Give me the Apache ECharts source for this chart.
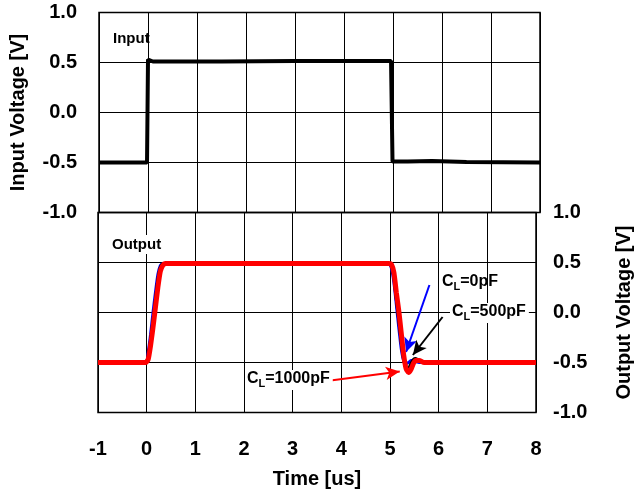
<!DOCTYPE html>
<html><head><meta charset="utf-8">
<script src="https://cdn.jsdelivr.net/npm/echarts@6/dist/echarts.min.js"></script>
<style>html,body{margin:0;padding:0;background:#fff}#c{width:642px;height:491px}</style>
</head><body><div id="c"></div>
<script>
// ---- data ----
const xTicks = [-1, 0, 1, 2, 3, 4, 5, 6, 7, 8];
const inTime = [-1, -0.02, 0.0, 0.03, 0.1, 0.3, 1.5, 3, 4.5, 4.96, 4.99, 5.03, 5.3, 5.8, 6.5, 8];
const inVolt = [-0.5, -0.5, 0.53, 0.52, 0.51, 0.51, 0.51, 0.515, 0.515, 0.515, -0.49, -0.49, -0.49, -0.485, -0.495, -0.5];

const outTime = [-1, -0.02, 0.03, 0.08, 0.13, 0.18, 0.23, 0.28, 0.33, 0.38, 0.45, 1.5, 3, 4.5, 4.98, 5.03, 5.08, 5.13, 5.18, 5.23, 5.28, 5.33, 5.38, 5.43, 5.48, 5.53, 5.6, 5.7, 5.8, 5.9, 6.2, 8];
const out0pF = [-0.5, -0.5, -0.4, -0.22, 0.0, 0.2, 0.38, 0.47, 0.49, 0.49, 0.49, 0.49, 0.49, 0.49, 0.49, 0.44, 0.3, 0.08, -0.15, -0.36, -0.48, -0.51, -0.5, -0.48, -0.48, -0.49, -0.5, -0.5, -0.5, -0.5, -0.5, -0.5];
const out500pF = [-0.5, -0.5, -0.44, -0.28, -0.08, 0.13, 0.33, 0.45, 0.49, 0.49, 0.49, 0.49, 0.49, 0.49, 0.49, 0.46, 0.35, 0.13, -0.08, -0.3, -0.47, -0.55, -0.56, -0.51, -0.47, -0.46, -0.48, -0.5, -0.49, -0.5, -0.5, -0.5];
const out1000pF = [-0.5, -0.5, -0.47, -0.33, -0.15, 0.05, 0.25, 0.41, 0.47, 0.49, 0.49, 0.49, 0.49, 0.49, 0.49, 0.48, 0.4, 0.2, 0.02, -0.2, -0.42, -0.56, -0.6, -0.57, -0.51, -0.48, -0.48, -0.5, -0.5, -0.5, -0.5, -0.5];

// annotation arrows: [startT, startV, endT, endV]
const arrow0pF = [5.81, 0.275, 5.33, -0.395];
const arrow500pF = [6.08, -0.045, 5.47, -0.425];
const arrow1000pF = [3.78, -0.68, 5.20, -0.59];

function zip(t, v) { return t.map((x, i) => [x, v[i]]); }
function arrow(a, color) {
  return {
    silent: true, symbol: ['none', 'arrow'], symbolSize: [10, 14],
    label: { show: false },
    lineStyle: { color: color, width: 2, type: 'solid' },
    emphasis: { disabled: true },
    data: [[{ coord: [a[0], a[1]] }, { coord: [a[2], a[3]] }]]
  };
}

const FONT = 'Liberation Sans, Arial, sans-serif';
const axisLabel = { color: '#000', fontSize: 20, fontWeight: 'bold', fontFamily: FONT };
const nameStyle = { color: '#000', fontSize: 20, fontWeight: 'bold', fontFamily: FONT };
const split = { show: true, lineStyle: { color: '#000', width: 1 } };
const sub = {
  a: { fontSize: 16, fontWeight: 'bold', fontFamily: FONT, lineHeight: 18, verticalAlign: 'top' },
  s: { fontSize: 11, fontWeight: 'bold', fontFamily: FONT, lineHeight: 11, verticalAlign: 'bottom' }
};
function subStyle(color) {
  const r = {};
  for (const k in sub) r[k] = Object.assign({}, sub[k], { color: color });
  return r;
}

const chart = echarts.init(document.getElementById('c'), null, { renderer: 'canvas' });
chart.setOption({
  animation: false,
  backgroundColor: '#fff',
  grid: [
    { left: 98, right: 102, top: 12.5, height: 200, show: true, borderColor: '#000', borderWidth: 1.5, backgroundColor: 'transparent' },
    { left: 98, right: 102, top: 212.5, height: 200, show: true, borderColor: '#000', borderWidth: 1.5, backgroundColor: 'transparent' }
  ],
  xAxis: [
    { gridIndex: 0, type: 'value', min: -1, max: 8, interval: 1, axisLabel: { show: false }, axisTick: { show: false }, axisLine: { show: false }, splitLine: split },
    { gridIndex: 1, type: 'value', min: -1, max: 8, interval: 1,
      axisLabel: Object.assign({}, axisLabel, { margin: 27, formatter: v => xTicks.includes(v) ? String(v) : '' }),
      axisTick: { show: false }, axisLine: { show: false }, splitLine: split,
      name: 'Time [us]', nameLocation: 'middle', nameGap: 57, nameTextStyle: nameStyle }
  ],
  yAxis: [
    { gridIndex: 0, type: 'value', position: 'left', min: -1, max: 1, interval: 0.5,
      axisLabel: Object.assign({}, axisLabel, { margin: 22, formatter: v => v.toFixed(1) }),
      axisTick: { show: false }, axisLine: { show: false }, splitLine: split,
      name: 'Input Voltage [V]', nameLocation: 'middle', nameGap: 71, nameTextStyle: nameStyle },
    { gridIndex: 1, type: 'value', position: 'right', min: -1, max: 1, interval: 0.5,
      axisLabel: Object.assign({}, axisLabel, { margin: 17, formatter: v => v.toFixed(1) }),
      axisTick: { show: false }, axisLine: { show: false }, splitLine: split,
      name: 'Output Voltage [V]', nameLocation: 'middle', nameGap: 78, nameTextStyle: nameStyle }
  ],
  series: [
    { name: 'Input', type: 'line', xAxisIndex: 0, yAxisIndex: 0, data: zip(inTime, inVolt), showSymbol: false, lineStyle: { color: '#000', width: 4 }, z: 5 },
    { name: 'CL=0pF', type: 'line', xAxisIndex: 1, yAxisIndex: 1, data: zip(outTime, out0pF), showSymbol: false, smooth: 0.2, lineStyle: { color: '#0000ff', width: 3 }, z: 3, markLine: arrow(arrow0pF, '#0000ff') },
    { name: 'CL=500pF', type: 'line', xAxisIndex: 1, yAxisIndex: 1, data: zip(outTime, out500pF), showSymbol: false, smooth: 0.2, lineStyle: { color: '#000', width: 3 }, z: 4, markLine: arrow(arrow500pF, '#000') },
    { name: 'CL=1000pF', type: 'line', xAxisIndex: 1, yAxisIndex: 1, data: zip(outTime, out1000pF), showSymbol: false, smooth: 0.2, lineStyle: { color: '#ff0000', width: 5 }, z: 6, markLine: arrow(arrow1000pF, '#ff0000') }
  ],
  graphic: [
    { type: 'text', left: 113, top: 31, z: 10, style: { text: 'Input', fill: '#000', font: 'bold 15px ' + FONT } },
    { type: 'text', left: 110, top: 235, z: 10, style: { text: 'Output', fill: '#000', font: 'bold 15px ' + FONT, backgroundColor: '#fff', padding: [2, 2, 2, 2] } },
    { type: 'text', left: 442, top: 274, z: 10, style: { text: '{a|C}{s|L}{a|=0pF}', rich: subStyle('#0000ff') } },
    { type: 'text', left: 450, top: 303, z: 10, style: { text: '{a|C}{s|L}{a|=500pF}', rich: subStyle('#000'), backgroundColor: '#fff', padding: [1, 3, 1, 2] } },
    { type: 'text', left: 245, top: 370, z: 10, style: { text: '{a|C}{s|L}{a|=1000pF}', rich: subStyle('#ff0000'), backgroundColor: '#fff', padding: [1, 3, 1, 2] } }
  ]
});
</script></body></html>
